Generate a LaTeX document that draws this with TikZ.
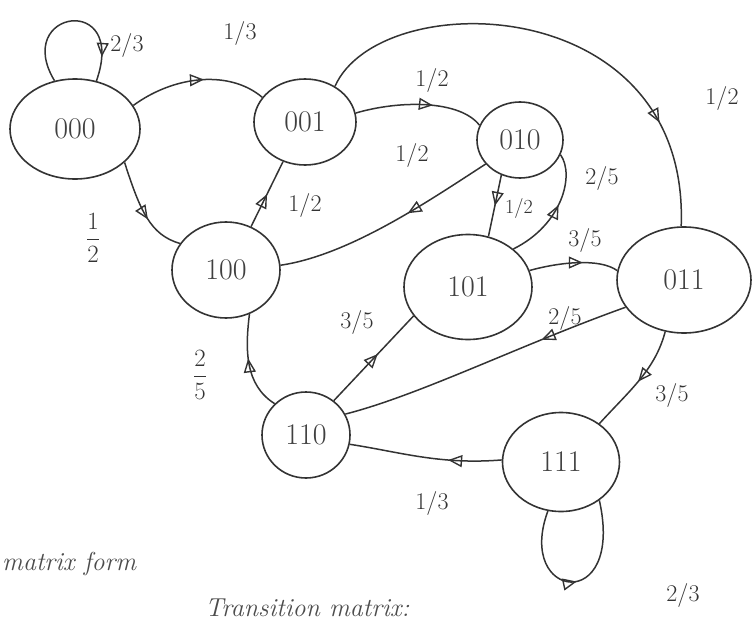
\documentclass[tikz,border=0pt]{standalone}
\usetikzlibrary{shapes.geometric,arrows.meta,decorations.markings}
\tikzset{
  state/.style={ellipse,draw=black!80,line width=1.6pt,inner sep=0pt,
    font=\fontsize{30}{34}\selectfont,text=black!75},
  edge/.style={draw=black!80,line width=1.5pt},
  mid/.style={postaction={decorate},decoration={markings,
    mark=at position #1 with {\arrow{Triangle[open,length=14pt,width=12pt,line width=1.4pt]}}}},
  mid/.default=0.5,
  lbl/.style={font=\fontsize{24}{28}\selectfont,text=black!80,inner sep=1pt},
  note/.style={font=\itshape\fontsize{26}{30}\selectfont,text=black!70,inner sep=0pt}
}
\begin{document}
\begin{tikzpicture}[x=1pt,y=-1pt]
\useasboundingbox (0,0) rectangle (753,624);
% states
\node[state,minimum width=130pt,minimum height=100pt] (s000) at (75,129) {000};
\node[state,minimum width=102pt,minimum height=86pt] (s001) at (305,122) {001};
\node[state,minimum width=86pt,minimum height=76pt] (s010) at (520,140) {010};
\node[state,minimum width=108pt,minimum height=96pt] (s100) at (226,270) {100};
\node[state,minimum width=128pt,minimum height=105pt] (s101) at (468,287) {101};
\node[state,minimum width=134pt,minimum height=106pt] (s011) at (684,280) {011};
\node[state,minimum width=88pt,minimum height=86pt] (s110) at (306,435) {110};
\node[state,minimum width=117pt,minimum height=99pt] (s111) at (561,462) {111};
% edges
\draw[edge,mid=0.84] (s000.113) .. controls (12,10) and (128,-8) .. (s000.66);
\draw[edge,mid=0.55] (s000.22) .. controls (175,75) and (230,70) .. (s001.150);
\draw[edge,mid=0.6] (s000.-34) .. controls (140,210) and (150,235) .. (s100.150);
\draw[edge,mid=0.5] (s100.60) -- (s001.-119);
\draw[edge,mid=0.6] (s001.10) .. controls (400,100) and (460,100) .. (s010.160);
\draw[edge,mid=0.78] (s001.50) .. controls (380,-15) and (690,-10) .. (s011.93);
\draw[edge,mid=0.4] (s010.-145) .. controls (430,200) and (350,255) .. (s100.5);
\draw[edge,mid=0.5] (s010.-118) -- (s101.68);
\draw[edge,mid=0.55] (s101.40) .. controls (562,225) and (575,175) .. (s010.-20);
\draw[edge,mid=0.6] (s101.15) .. controls (560,262) and (600,258) .. (s011.172);
\draw[edge,mid=0.3] (s011.-155) .. controls (520,345) and (420,395) .. (s110.28);
\draw[edge,mid=0.5] (s011.-110) .. controls (655,370) and (630,390) .. (s111.45);
\draw[edge,mid=0.55] (s110.51) -- (s101.-152);
\draw[edge,mid=0.55] (s110.135) .. controls (245,385) and (245,350) .. (s100.-62);
\draw[edge,mid=0.35] (s111.178) .. controls (440,465) and (400,452) .. (s110.-12);
\draw[edge,mid=0.5] (s111.-105) .. controls (515,600) and (625,615) .. (s111.-45);
% labels
\node[lbl] (l1) at (127,45) {2/3};
\node[lbl] (l2) at (240,33) {1/3};
\node[lbl] (l3) at (93,238) {$\displaystyle\frac{1}{2}$};
\node[lbl] (l4) at (305,205) {1/2};
\node[lbl] (l5) at (432,80) {1/2};
\node[lbl] (l6) at (722,98) {1/2};
\node[lbl] (l7) at (412,155) {1/2};
\node[lbl,font=\fontsize{20}{24}\selectfont] (l8) at (519,208) {1/2};
\node[lbl] (l9) at (602,178) {2/5};
\node[lbl] (l10) at (585,240) {3/5};
\node[lbl] (l11) at (565,318) {2/5};
\node[lbl] (l12) at (672,395) {3/5};
\node[lbl] (l13) at (357,322) {3/5};
\node[lbl] (l14) at (200,375) {$\displaystyle\frac{2}{5}$};
\node[lbl] (l15) at (432,503) {1/3};
\node[lbl] (l16) at (683,595) {2/3};
% notes
\node[note,anchor=base west] (n1) at (2,570) {matrix form};
\node[note,anchor=base west] (n2) at (205,616) {Transition matrix:};
\end{tikzpicture}
\end{document}
